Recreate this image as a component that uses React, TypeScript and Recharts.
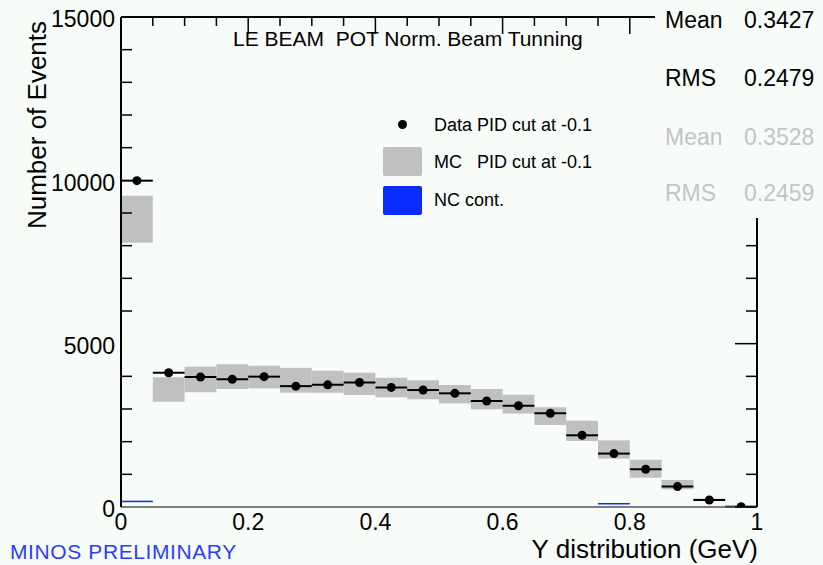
import { ComposedChart, XAxis, YAxis, Scatter, ErrorBar, ReferenceArea, ReferenceLine } from 'recharts';

const binCenters = [0.025, 0.075, 0.125, 0.175, 0.225, 0.275, 0.325, 0.375, 0.425, 0.475,
  0.525, 0.575, 0.625, 0.675, 0.725, 0.775, 0.825, 0.875, 0.925, 0.975];
const binHalfWidth = 0.025;

// data, PID cut at -0.1
const dataCounts = [9990, 4110, 3980, 3910, 3990, 3700, 3740, 3810, 3660, 3580,
  3480, 3245, 3100, 2870, 2195, 1635, 1155, 625, 215, 10];

// MC band (low / high edge of the grey box)
const mcLow = [8090, 3224, 3510, 3612, 3633, 3500, 3500, 3429, 3358, 3297,
  3174, 2990, 2860, 2510, 2020, 1480, 898, 541, 190, 0];
const mcHigh = [9530, 3970, 4295, 4368, 4326, 4260, 4173, 4112, 3959, 3878,
  3735, 3612, 3440, 3051, 2643, 2041, 1449, 827, 260, 20];

// NC contamination
const ncCounts = [170, 0, 0, 0, 0, 0, 0, 0, 0, 0,
  0, 0, 0, 0, 0, 100, 0, 0, 0, 0];

const xTicks = [0, 0.2, 0.4, 0.6, 0.8, 1];
const xMinorTicks = [0, 0.05, 0.1, 0.15, 0.2, 0.25, 0.3, 0.35, 0.4, 0.45, 0.5,
  0.55, 0.6, 0.65, 0.7, 0.75, 0.8, 0.85, 0.9, 0.95, 1];
const yTicks = [0, 1000, 2000, 3000, 4000, 5000, 6000, 7000, 8000, 9000, 10000,
  11000, 12000, 13000, 14000, 15000];
const yLabels = [0, 5000, 10000, 15000];

const statsRows = [
  { name: 'Mean', value: '0.3427', color: '#000' },
  { name: 'RMS', value: '0.2479', color: '#000' },
  { name: 'Mean', value: '0.3528', color: '#c4c4c4' },
  { name: 'RMS', value: '0.2459', color: '#c4c4c4' },
];

const BG = '#f7fcf9';
const FONT = '"Liberation Sans", Arial, sans-serif';
const MC_GREY = '#c0c0c0';
const NC_BLUE = '#0a2cff';

const points = binCenters.map((x, i) => ({ x, y: dataCounts[i], ex: binHalfWidth }));

const LeftTick = ({ x, y, payload }: any) => {
  const v = payload.value;
  const major = yLabels.includes(v);
  return (
    <g>
      {!major && <line x1={x} x2={x + 11} y1={y} y2={y} stroke="#000" strokeWidth={1.5} />}
      {major && (
        <text x={x - 6} y={y + 2} dy="0.36em" textAnchor="end" fontSize={23} fontFamily={FONT} fill="#000">
          {v}
        </text>
      )}
    </g>
  );
};

const RightTick = ({ x, y, payload }: any) => {
  const len = payload.value % 5000 === 0 ? 22 : 11;
  return <line x1={x} x2={x - len} y1={y} y2={y} stroke="#000" strokeWidth={1.5} />;
};

const TopTick = ({ x, y, payload }: any) => {
  const len = xTicks.includes(payload.value) ? 17 : 9;
  return <line x1={x} x2={x} y1={y} y2={y + len} stroke="#000" strokeWidth={1.5} />;
};

const BottomTick = ({ x, y, payload }: any) => (
  <text x={x} y={y + 15} dy="0.36em" textAnchor="middle" fontSize={23} fontFamily={FONT} fill="#000">
    {payload.value}
  </text>
);

const Dot = (props: any) => <circle cx={props.cx} cy={props.cy} r={4.5} fill="#000" />;
const NoDot = () => <g />;

export default function App() {
  return (
    <div style={{ position: 'absolute', left: 0, top: 0, width: 823, height: 565, background: BG, fontFamily: FONT, overflow: 'hidden' }}>
      <ComposedChart width={823} height={565} margin={{ top: 16, right: 65, bottom: 0, left: 0 }}>
        <XAxis xAxisId="bottom" type="number" dataKey="x" domain={[0, 1]} allowDataOverflow ticks={xTicks} interval={0}
          height={58} tickSize={0} tickMargin={0} tickLine={false} tick={<BottomTick />}
          axisLine={{ stroke: '#555', strokeWidth: 1.5 }} />
        <XAxis xAxisId="top" orientation="top" type="number" dataKey="x" domain={[0, 1]} allowDataOverflow ticks={xMinorTicks} interval={0}
          height={1} tickSize={0} tickMargin={0} tickLine={false} tick={<TopTick />}
          axisLine={{ stroke: '#000', strokeWidth: 2 }} />
        <YAxis yAxisId="left" type="number" domain={[0, 15000]} allowDataOverflow ticks={yTicks} interval={0}
          width={121} tickSize={0} tickMargin={0} tickLine={false} tick={<LeftTick />}
          axisLine={{ stroke: '#000', strokeWidth: 2 }} />
        <YAxis yAxisId="right" orientation="right" type="number" domain={[0, 15000]} allowDataOverflow ticks={yTicks} interval={0}
          width={1} tickSize={0} tickMargin={0} tickLine={false} tick={<RightTick />}
          axisLine={{ stroke: '#000', strokeWidth: 2 }} />

        {binCenters.map((c, i) => (
          <ReferenceArea key={`mc-${i}`} xAxisId="bottom" yAxisId="left"
            x1={c - binHalfWidth} x2={c + binHalfWidth} y1={mcLow[i]} y2={mcHigh[i]}
            fill={MC_GREY} fillOpacity={1} stroke="none" />
        ))}

        {binCenters.map((c, i) => ncCounts[i] > 0 ? (
          <ReferenceLine key={`nc-${i}`} xAxisId="bottom" yAxisId="left"
            segment={[{ x: c - binHalfWidth, y: ncCounts[i] }, { x: c + binHalfWidth, y: ncCounts[i] }]}
            stroke={NC_BLUE} strokeWidth={1.5} />
        ) : null)}

        {/* invisible series so the frame axes (top / right) get their scales */}
        <Scatter xAxisId="top" yAxisId="right" data={points} dataKey="y" shape={<NoDot />} isAnimationActive={false} />

        <Scatter xAxisId="bottom" yAxisId="left" data={points} dataKey="y" shape={<Dot />} isAnimationActive={false}>
          <ErrorBar dataKey="ex" direction="x" width={0} stroke="#000" strokeWidth={2} isAnimationActive={false} />
        </Scatter>
      </ComposedChart>

      {/* title */}
      <div style={{ position: 'absolute', left: 233, top: 27, height: 24, lineHeight: '24px', fontSize: 21, whiteSpace: 'pre', color: '#000' }}>
        LE BEAM  POT Norm. Beam Tunning
      </div>

      {/* stats box */}
      <div style={{ position: 'absolute', left: 655, top: 0, width: 168, height: 218, background: BG }}>
        {statsRows.map((r, i) => (
          <div key={i} style={{ position: 'absolute', top: [20, 78, 137, 193][i] - 13, left: 10, width: 158, height: 26, lineHeight: '26px', fontSize: 23, color: r.color, whiteSpace: 'pre' }}>
            <span style={{ position: 'absolute', left: 0 }}>{r.name}</span>
            <span style={{ position: 'absolute', left: 79 }}>{r.value}</span>
          </div>
        ))}
      </div>

      {/* legend */}
      <div style={{ position: 'absolute', left: 398, top: 120, width: 9, height: 9, borderRadius: '50%', background: '#000' }} />
      <div style={{ position: 'absolute', left: 383, top: 147, width: 39, height: 29, background: MC_GREY, borderRadius: 2 }} />
      <div style={{ position: 'absolute', left: 383, top: 186, width: 39, height: 29, background: NC_BLUE, borderRadius: 2 }} />
      <div style={{ position: 'absolute', left: 434, top: 114, height: 22, lineHeight: '22px', fontSize: 18, whiteSpace: 'pre' }}>Data PID cut at -0.1</div>
      <div style={{ position: 'absolute', left: 434, top: 151, height: 22, lineHeight: '22px', fontSize: 18, whiteSpace: 'pre' }}>MC   PID cut at -0.1</div>
      <div style={{ position: 'absolute', left: 434, top: 189, height: 22, lineHeight: '22px', fontSize: 18, whiteSpace: 'pre' }}>NC cont.</div>

      {/* axis titles */}
      <div style={{ position: 'absolute', left: 37 - 120, top: 125 - 14, width: 240, height: 28, lineHeight: '28px', fontSize: 26, textAlign: 'center', transform: 'rotate(-90deg)', whiteSpace: 'pre' }}>
        Number of Events
      </div>
      <div style={{ position: 'absolute', right: 823 - 758, top: 535, height: 28, lineHeight: '28px', fontSize: 26, whiteSpace: 'pre' }}>
        Y distribution (GeV)
      </div>
      <div style={{ position: 'absolute', left: 10, top: 540, height: 24, lineHeight: '24px', fontSize: 21, letterSpacing: 0.6, color: '#2a3cff', whiteSpace: 'pre' }}>
        MINOS PRELIMINARY
      </div>
    </div>
  );
}
